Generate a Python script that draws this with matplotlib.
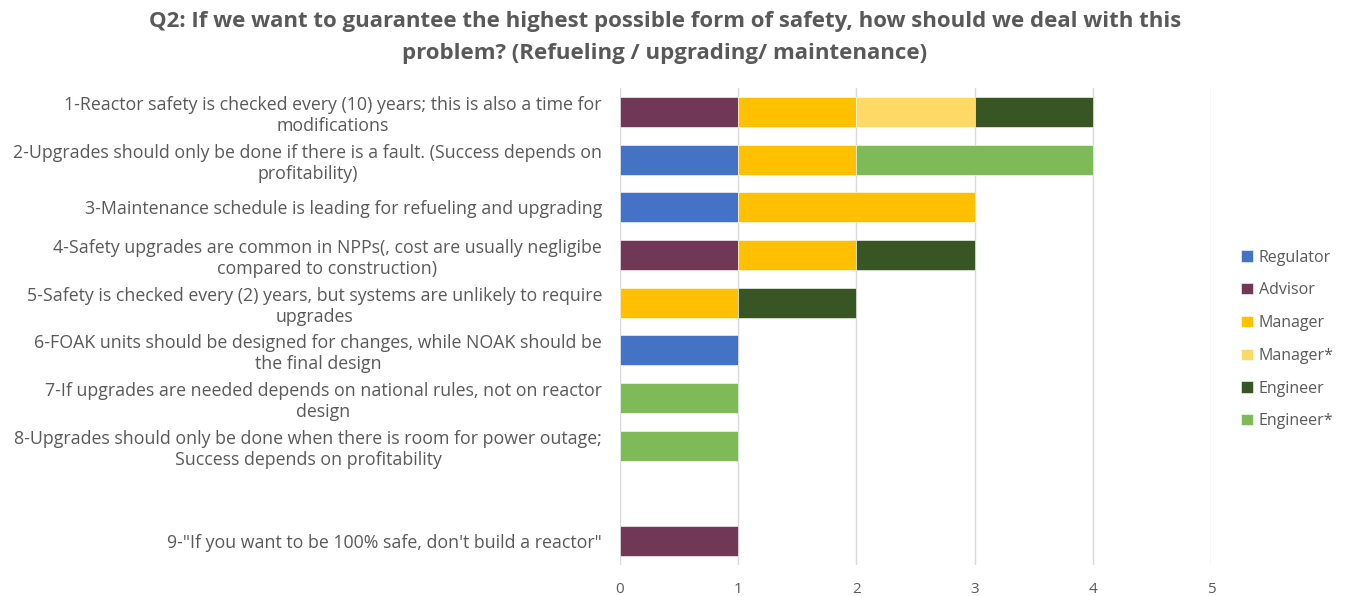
import numpy as np
import matplotlib
matplotlib.use("Agg")
import matplotlib.pyplot as plt

plt.rcParams['font.family'] = ['Open Sans', 'DejaVu Sans']

title = ("Q2: If we want to guarantee the highest possible form of safety, how should we deal with this\n"
         "problem? (Refueling / upgrading/ maintenance)")

labels = [
    "1-Reactor safety is checked every (10) years; this is also a time for\nmodifications",
    "2-Upgrades should only be done if there is a fault. (Success depends on\nprofitability)",
    "3-Maintenance schedule is leading for refueling and upgrading",
    "4-Safety upgrades are common in NPPs(, cost are usually negligibe\ncompared to construction)",
    "5-Safety is checked every (2) years, but systems are unlikely to require\nupgrades",
    "6-FOAK units should be designed for changes, while NOAK should be\nthe final design",
    "7-If upgrades are needed depends on national rules, not on reactor\ndesign",
    "8-Upgrades should only be done when there is room for power outage;\nSuccess depends on profitability",
    "",
    "9-\"If you want to be 100% safe, don't build a reactor\"",
]

series = ["Regulator", "Advisor", "Manager", "Manager*", "Engineer", "Engineer*"]
regulator = [0, 1, 1, 0, 0, 1, 0, 0, 0, 0]
advisor   = [1, 0, 0, 1, 0, 0, 0, 0, 0, 1]
manager   = [1, 1, 2, 1, 1, 0, 0, 0, 0, 0]
manager_s = [1, 0, 0, 0, 0, 0, 0, 0, 0, 0]
engineer  = [1, 0, 0, 1, 1, 0, 0, 0, 0, 0]
engineer_s = [0, 2, 0, 0, 0, 0, 1, 1, 0, 0]
colors = ["#4472C4", "#703856", "#FFC000", "#FFD966", "#375623", "#7FBA58"]

data = [regulator, advisor, manager, manager_s, engineer, engineer_s]

fig = plt.figure(figsize=(13.46, 5.96), dpi=100)
ax = fig.add_axes([0.4606, 0.052, 0.4391, 0.800])

y = np.arange(len(labels))
left = np.zeros(len(labels))
for name, vals, c in zip(series, data, colors):
    vals = np.array(vals, dtype=float)
    nz = vals > 0
    ax.barh(y[nz], vals[nz], left=left[nz], height=0.63, color=c, label=name,
            edgecolor="white", linewidth=0.4, zorder=3)
    left += vals

ax.set_ylim(len(labels) - 0.5, -0.5)
ax.set_xlim(0, 5)
ax.set_xticks(range(6))
ax.set_yticks(y)
ax.set_yticklabels(labels, fontsize=12.8, color="#595959", multialignment="center")
ax.tick_params(axis="y", length=0, pad=13)
ax.tick_params(axis="x", length=0, pad=12, labelsize=11, labelcolor="#595959")
ax.grid(axis="x", color="#D9D9D9", linewidth=1, zorder=0)
for s in ax.spines.values():
    s.set_visible(False)

fig.suptitle(title, x=0.494, y=0.982, fontsize=16, fontweight="bold", color="#595959",
             linespacing=1.7)

ax.legend(loc="center left", bbox_to_anchor=(1.027, 0.473), frameon=False, fontsize=11.5,
          labelcolor="#595959", handlelength=0.7, handleheight=0.7, handletextpad=0.4,
          labelspacing=1.05)

fig.savefig("out.png", dpi=100)
